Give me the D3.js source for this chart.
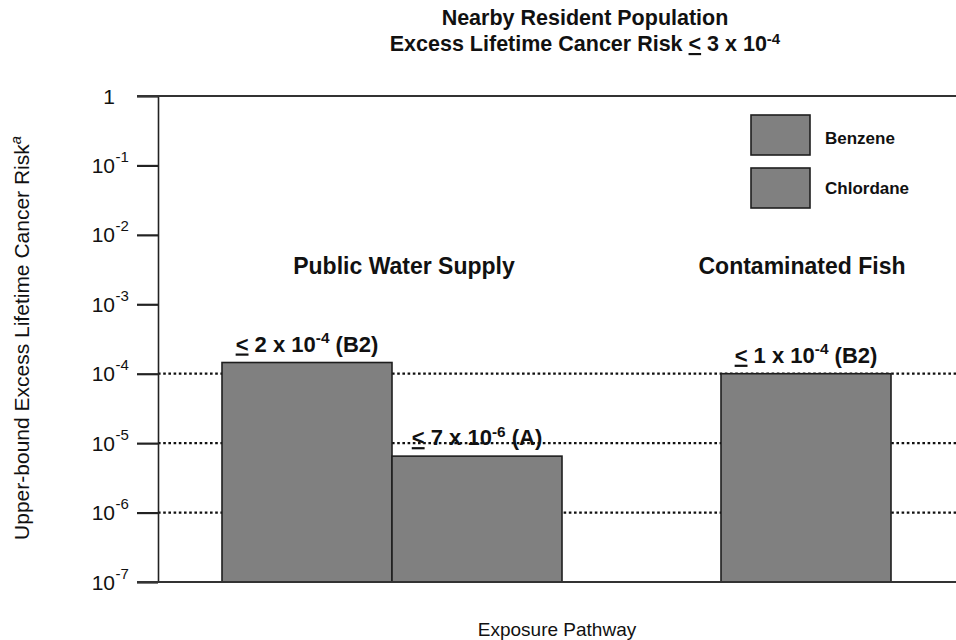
<!DOCTYPE html>
<html>
<head>
<meta charset="utf-8">
<script src="https://cdn.jsdelivr.net/npm/d3@7"></script>
<style>
  html, body { margin: 0; padding: 0; background: #fff; }
  svg { display: block; font-family: "Liberation Sans", Arial, sans-serif; }
</style>
</head>
<body>
<svg id="chart" width="956" height="640"></svg>
<script>
// ---------------- data ----------------
const categories = ["Public Water Supply", "Contaminated Fish"];
const seriesNames = ["Benzene", "Chlordane"];
const benzeneValues = [1.45e-4, 1.0e-4];
const chlordaneValues = [6.5e-6, null];
// bar labels: [mantissa, exponent, class]
const benzeneLabels = [["2", "-4", "(B2)"], ["1", "-4", "(B2)"]];
const chlordaneLabels = [["7", "-6", "(A)"], null];
const tickValues = [1, 1e-1, 1e-2, 1e-3, 1e-4, 1e-5, 1e-6, 1e-7];
const gridValues = [1e-4, 1e-5, 1e-6];
const titleLine1 = "Nearby Resident Population";
const titleLine2 = ["Excess Lifetime Cancer Risk ", "<", " 3 x 10", "-4"];
const yLabel = ["Upper-bound Excess Lifetime Cancer Risk", "a"];
const xLabel = "Exposure Pathway";

// ---------------- layout ----------------
const svg = d3.select("#chart");
const plotLeft = 158, plotRight = 956, plotTop = 96, plotBottom = 582;
const barWidth = 170;
const fill = "#808080", edge = "#1e1e1e";

const y = d3.scaleLog().domain([1e-7, 1]).range([plotBottom, plotTop]);
const x = d3.scalePoint().domain(categories).range([392, 806]);

const seriesValues = { Benzene: benzeneValues, Chlordane: chlordaneValues };
const seriesLabels = { Benzene: benzeneLabels, Chlordane: chlordaneLabels };

// build bar records
const bars = [];
categories.forEach((cat, i) => {
  const present = seriesNames.filter(s => seriesValues[s][i] != null);
  const sub = d3.scaleBand().domain(present)
    .range([-present.length * barWidth / 2, present.length * barWidth / 2]);
  present.forEach(s => {
    bars.push({ cat, series: s, value: seriesValues[s][i], label: seriesLabels[s][i],
      x0: x(cat) + sub(s), w: sub.bandwidth() });
  });
});

// gridlines (dotted)
svg.append("g").selectAll("line").data(gridValues).join("line")
  .attr("x1", plotLeft).attr("x2", plotRight)
  .attr("y1", d => y(d)).attr("y2", d => y(d))
  .attr("stroke", "#111").attr("stroke-width", 2.2)
  .attr("stroke-dasharray", "2.6,2.6");

// bars
svg.append("g").selectAll("rect").data(bars).join("rect")
  .attr("x", d => d.x0).attr("width", d => d.w)
  .attr("y", d => y(d.value)).attr("height", d => plotBottom - y(d.value))
  .attr("fill", fill).attr("stroke", edge).attr("stroke-width", 1.6);

// y axis
const axis = d3.axisLeft(y).tickValues(tickValues).tickSize(21).tickSizeOuter(0).tickFormat("");
const gAxis = svg.append("g").attr("transform", `translate(${plotLeft},0)`).call(axis);
gAxis.select(".domain").attr("stroke", "#222").attr("stroke-width", 1.6);
gAxis.selectAll(".tick line").attr("stroke", "#222").attr("stroke-width", 2.2);

// top and bottom frame lines
svg.append("g").selectAll("line").data([1, 1e-7]).join("line")
  .attr("x1", plotLeft - 21).attr("x2", plotRight)
  .attr("y1", d => y(d)).attr("y2", d => y(d))
  .attr("stroke", "#333").attr("stroke-width", 2);

// tick labels with superscripts
const tl = svg.append("g").attr("font-size", 21).attr("fill", "#111");
tickValues.forEach(v => {
  const e = Math.round(Math.log10(v));
  tl.append("text").attr("x", 115).attr("y", y(v)).attr("dy", "0.36em")
    .attr("text-anchor", "end").text(e === 0 ? "1" : "10");
  if (e !== 0) {
    tl.append("text").attr("x", 115.5).attr("y", y(v) - 5).attr("dy", "0.1em")
      .attr("font-size", 15).text(String(e));
  }
});

// helper to write "< m x 10^e (cls)" label
function riskLabel(sel, m, e, cls) {
  sel.append("tspan").attr("text-decoration", "underline").text("<");
  sel.append("tspan").text(" " + m + " x 10");
  sel.append("tspan").attr("font-size", "0.7em").attr("dy", "-0.55em").text(e);
  sel.append("tspan").attr("dy", "0.385em").text(" " + cls);
}

// bar value labels
bars.forEach(d => {
  const t = svg.append("text")
    .attr("x", d.x0 + d.w / 2).attr("y", y(d.value) - 11)
    .attr("text-anchor", "middle").attr("font-size", 22).attr("font-weight", "bold")
    .attr("fill", "#111");
  riskLabel(t, d.label[0], d.label[1], d.label[2]);
});

// category labels
svg.append("g").selectAll("text").data(categories).join("text")
  .attr("x", (d, i) => x(d) + (i === 0 ? 12 : -4)).attr("y", 274)
  .attr("text-anchor", "middle").attr("font-size", 23).attr("font-weight", "bold")
  .attr("fill", "#111").text(d => d);

// legend
const lg = svg.append("g");
seriesNames.forEach((s, i) => {
  lg.append("rect").attr("x", 751).attr("y", 115 + i * 53).attr("width", 59).attr("height", 40)
    .attr("fill", fill).attr("stroke", edge).attr("stroke-width", 1.6);
  lg.append("text").attr("x", 825).attr("y", 144 + i * 50)
    .attr("font-size", 17).attr("font-weight", "bold").attr("fill", "#111").text(s);
});

// title
svg.append("text").attr("x", 585).attr("y", 25).attr("text-anchor", "middle")
  .attr("font-size", 21.5).attr("font-weight", "bold").attr("fill", "#111").text(titleLine1);
const t2 = svg.append("text").attr("x", 585).attr("y", 51).attr("text-anchor", "middle")
  .attr("font-size", 21.5).attr("font-weight", "bold").attr("fill", "#111");
t2.append("tspan").text(titleLine2[0]);
t2.append("tspan").attr("text-decoration", "underline").text(titleLine2[1]);
t2.append("tspan").text(titleLine2[2]);
t2.append("tspan").attr("font-size", "0.7em").attr("dy", "-0.45em").text(titleLine2[3]);

// axis titles
const yl = svg.append("text").attr("transform", "translate(29,338) rotate(-90)")
  .attr("text-anchor", "middle").attr("font-size", 21).attr("fill", "#111");
yl.append("tspan").text(yLabel[0]);
yl.append("tspan").attr("font-size", "0.7em").attr("font-style", "italic").attr("dy", "-0.55em").text(yLabel[1]);

svg.append("text").attr("x", 557).attr("y", 636).attr("text-anchor", "middle")
  .attr("font-size", 19).attr("fill", "#111").text(xLabel);
</script>
</body>
</html>
